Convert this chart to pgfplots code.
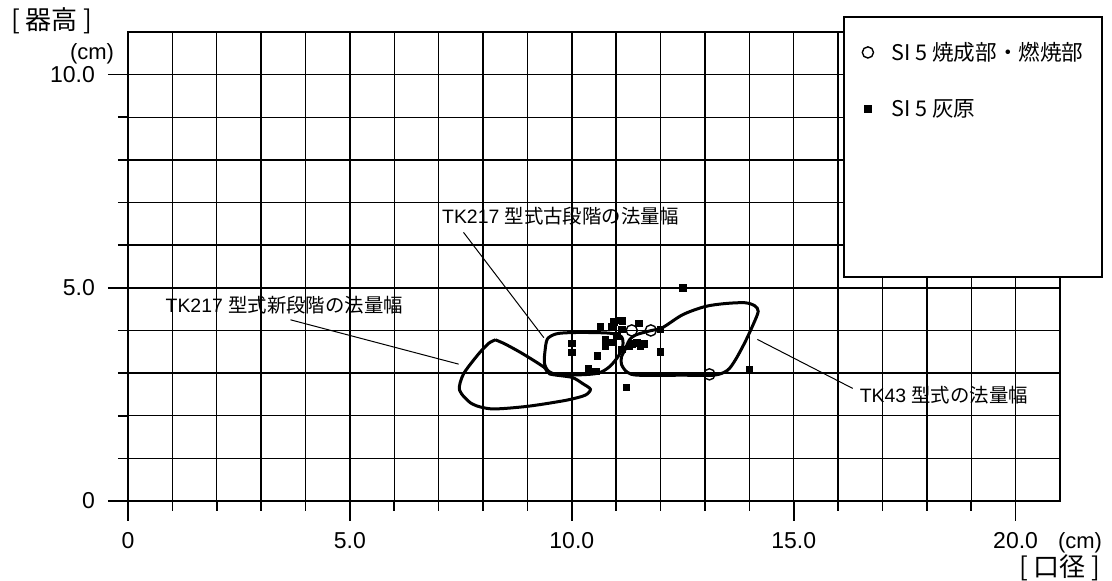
\documentclass[border=0pt]{standalone}
\usepackage{fontspec}
\setmainfont{Liberation Sans}
\newfontfamily\jp{Noto Sans CJK JP}
\usepackage{pgfplots}
\pgfplotsset{compat=1.18}
\begin{document}
\begin{tikzpicture}
\path[use as bounding box] (-64pt,-40pt) rectangle (492pt,250.5pt);
\begin{axis}[at={(0,0)}, anchor=south west, scale only axis,
  width=466pt, height=234.5pt,
  xmin=0, xmax=21, ymin=0, ymax=11,
  xtick={0,5,10,15,20}, xticklabels={0,5.0,10.0,15.0,20.0},
  ytick={0,5,10}, yticklabels={0,5.0,10.0},
  minor x tick num=4, minor y tick num=4,
  grid=both,
  major grid style={black, line width=0.7pt},
  minor grid style={black, line width=0.7pt},
  tick align=outside, tick pos=left,
  major tick length=10pt, minor tick length=5pt,
  every tick/.style={black, line width=0.8pt},
  axis line style={black, line width=1pt},
  ticklabel style={font=\fontsize{11.5}{13}\selectfont},
  yticklabel style={xshift=-3pt},
  xticklabel style={yshift=-2.3pt},
  clip=false,
  legend style={at={(0.781,0.997)}, anchor=north west, draw=none, fill=none,
    font=\jp\fontsize{10.8}{12}\selectfont, row sep=14pt},
  legend cell align=left,
]
% legend background box
\draw[black, line width=0.6pt, fill=white] (rel axis cs:0.7682,0.4776) rectangle (rel axis cs:1.0451,1.032);

% TK217 old
\addplot[black, line width=1.5pt, smooth, tension=0.5, forget plot] coordinates {
(9.40,3.55) (9.45,3.8) (9.65,3.92) (10.0,3.95) (10.5,3.95) (10.9,3.93) (11.12,3.85)
(11.15,3.65) (11.05,3.4) (10.85,3.15) (10.6,3.0) (10.2,2.96) (9.7,2.96) (9.47,3.05)
(9.38,3.25) (9.40,3.55)};
% TK217 new
\addplot[black, line width=1.5pt, smooth, tension=0.45, forget plot] coordinates {
(8.28,3.78) (8.5,3.68) (8.9,3.45) (9.37,3.14) (9.5,2.98) (10.0,2.9) (10.25,2.75)
(10.42,2.62) (10.3,2.48) (9.86,2.36) (9.0,2.22) (8.2,2.16) (7.75,2.28) (7.47,2.6)
(7.56,2.98) (7.9,3.45) (8.13,3.7) (8.28,3.78)};
% TK43
\addplot[black, line width=1.5pt, smooth, tension=0.5, forget plot] coordinates {
(11.2,3.55) (11.3,3.78) (11.45,3.9) (11.8,4.0) (12.05,4.07) (12.5,4.37) (13.0,4.56)
(13.45,4.63) (13.9,4.65) (14.12,4.58) (14.2,4.45) (14.1,4.17) (13.9,3.72) (13.68,3.3)
(13.5,3.06) (13.2,2.95) (12.5,2.95) (11.5,2.95) (11.25,3.02) (11.12,3.2) (11.12,3.38)
(11.2,3.55)};

% circles
\addplot[only marks, mark=o, mark size=2.8pt, mark options={black, line width=0.7pt, fill=white}] coordinates {
(11.35,4.0) (11.78,4.0) (13.1,2.97)};
\addlegendentry{\hspace{7pt}SI 5 焼成部・燃焼部}
% squares
\addplot[only marks, mark=square*, mark size=1.6pt, mark options={black, fill=black}] coordinates {
(12.5,5.0) (10.0,3.7) (10.0,3.48) (10.58,3.39) (10.38,3.11) (10.54,3.04) (11.23,2.66)
(12.0,3.5) (12.0,4.02) (14.0,3.08) (10.65,4.1) (10.95,4.2) (11.06,4.24) (11.14,4.22)
(11.51,4.17) (10.9,4.08) (11.13,4.02) (10.75,3.79) (10.75,3.64) (10.9,3.72) (11.02,3.87)
(11.35,3.68) (11.47,3.71) (11.62,3.68) (11.13,3.56) (11.3,3.62) (11.55,3.62) (10.57,3.41)};
\addlegendentry{\hspace{7pt}SI 5 灰原}

% annotations
\node[anchor=west, font=\fontsize{9.7}{12}\selectfont, inner sep=0pt] at (axis cs:7.07,6.67) {TK217 {\jp 型式古段階の法量幅}};
\draw[line width=0.5pt] (axis cs:7.56,6.3) -- (axis cs:9.37,3.83);
\node[anchor=west, font=\fontsize{9.7}{12}\selectfont, inner sep=0pt] at (axis cs:0.84,4.59) {TK217 {\jp 型式新段階の法量幅}};
\draw[line width=0.5pt] (axis cs:3.66,4.25) -- (axis cs:7.45,3.21);
\node[anchor=west, font=\fontsize{9.7}{12}\selectfont, inner sep=0pt] at (axis cs:16.48,2.49) {TK43 {\jp 型式の法量幅}};
\draw[line width=0.5pt] (axis cs:14.18,3.79) -- (axis cs:16.33,2.64);
\end{axis}
\node[font=\jp\fontsize{13}{15}\selectfont] at (-38pt,240pt) {[ 器高 ]};
\node[font=\fontsize{11}{13}\selectfont] at (-18pt,223.5pt) {(cm)};
\node[font=\fontsize{11}{13}\selectfont] at (476pt,-20.8pt) {(cm)};
\node[font=\jp\fontsize{13}{15}\selectfont] at (466pt,-33.5pt) {[ 口径 ]};
\end{tikzpicture}
\end{document}
